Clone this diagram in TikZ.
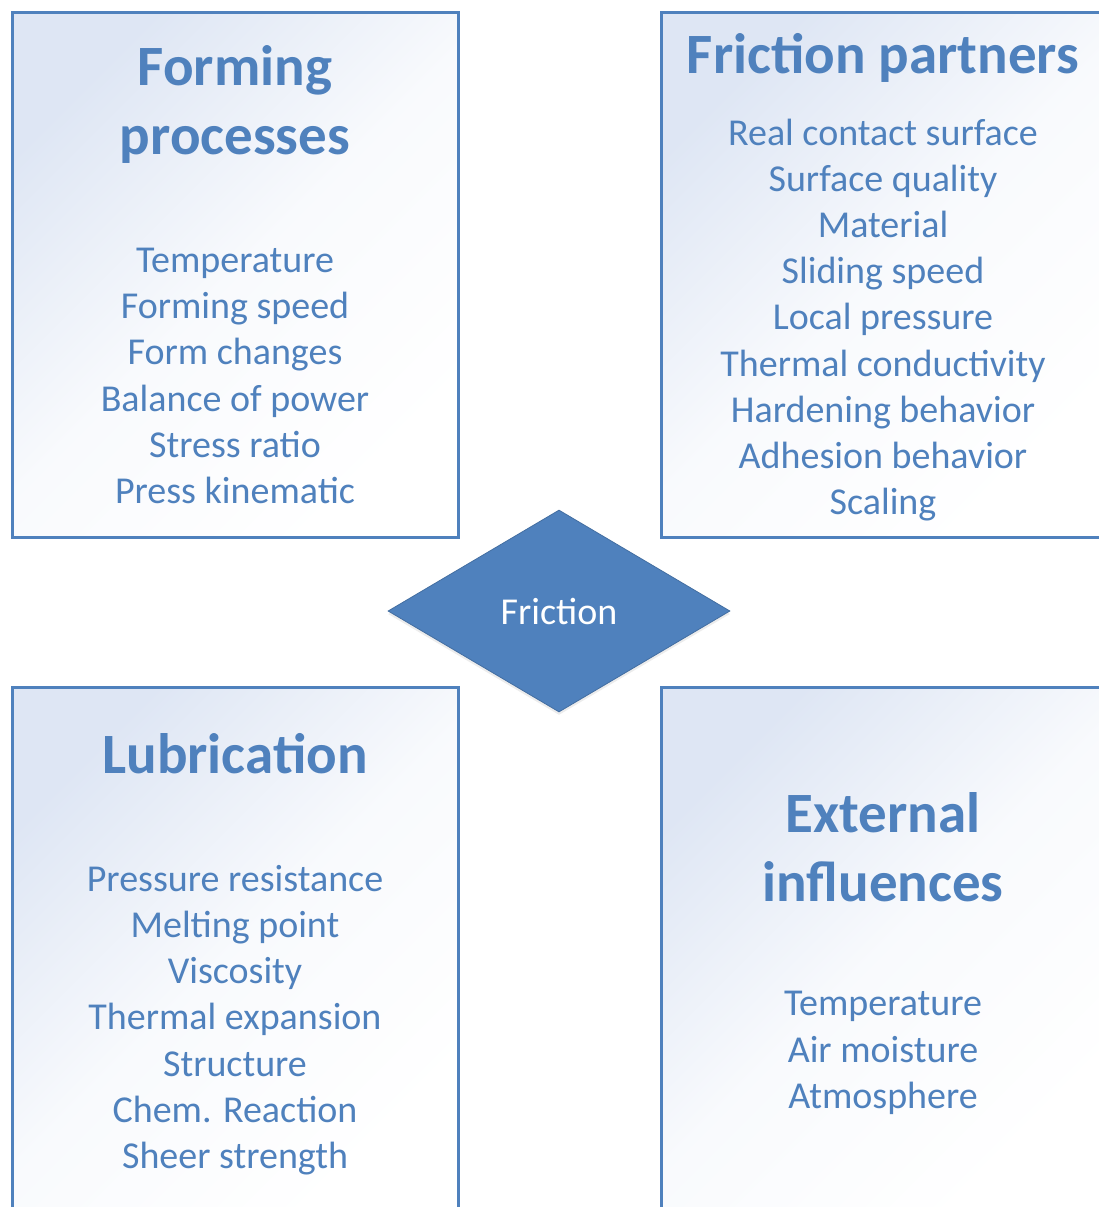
\documentclass[tikz,border=0pt]{standalone}
\usepackage{fontspec}
\setmainfont{Carlito}
\usetikzlibrary{shapes.geometric}
\usetikzlibrary{shadows}
\definecolor{fricblue}{RGB}{79,129,189}
\definecolor{boxtint}{RGB}{222,230,244}
\tikzset{
    factorbox/.style={
        draw=fricblue, line width=1.5pt,
        top color=boxtint, bottom color=white, middle color=white!80!boxtint,
        shading angle=45
    },
    heading/.style={text=fricblue, align=center,
        font=\fontsize{28.5}{34.5}\selectfont\bfseries},
    itemlist/.style={text=fricblue, align=center,
        font=\fontsize{19}{23.1}\selectfont},
    centre/.style={diamond, aspect=1.7, inner sep=0pt,
        minimum width=171pt, minimum height=101pt,
        fill=fricblue, draw=fricblue!85!black, line width=0.4pt,
        text=white, font=\fontsize{19}{23}\selectfont}
}

\begin{document}
\begin{tikzpicture}[x=0.5pt, y=-0.5pt]
    \useasboundingbox (0,0) rectangle (1099,1207);
    \clip (0,0) rectangle (1099,1207);

    % the four boxes, right and bottom ones run past the edge
    \draw[factorbox] (12,12) rectangle (458,537);
    \draw[factorbox] (661,12) rectangle (1105,537);
    \draw[factorbox] (12,687) rectangle (458,1212);
    \draw[factorbox] (661,687) rectangle (1105,1212);

    \node[heading] (FORMING) at (235,104) {Forming\\processes};
    \node[itemlist] (FORMINGLIST) at (235,376) {Temperature\\Forming speed\\Form changes\\Balance of power\\Stress ratio\\Press kinematic};

    \node[heading] (PARTNERS) at (883,58) {Friction partners};
    \node[itemlist] (PARTNERSLIST) at (883,320) {Real contact surface\\Surface quality\\Material\\Sliding speed\\Local pressure\\Thermal conductivity\\Hardening behavior\\Adhesion behavior\\Scaling};

    \node[heading] (LUBE) at (235,754) {Lubrication};
    \node[itemlist] (LUBELIST) at (235,1020) {Pressure resistance\\Melting point\\Viscosity\\Thermal expansion\\Structure\\Chem. Reaction\\Sheer strength};

    \node[heading] (EXTERNAL) at (883,847) {External\\influences};
    \node[itemlist] (EXTERNALLIST) at (883,1053) {Temperature\\Air moisture\\Atmosphere};

    \node[centre, drop shadow={opacity=0.15, shadow xshift=0pt, shadow yshift=-1.5pt}] (FRICTION) at (559,611) {Friction};
\end{tikzpicture}
\end{document}
